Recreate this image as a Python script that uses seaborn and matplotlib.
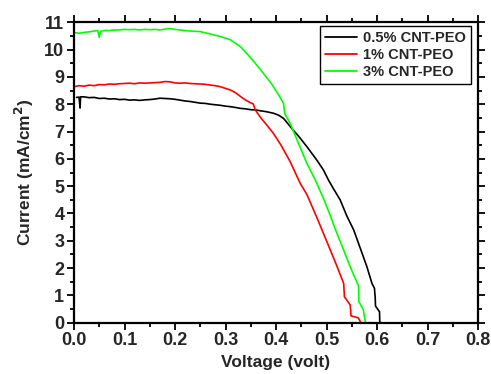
import numpy as np
import pandas as pd
import matplotlib
matplotlib.use("Agg")
import matplotlib.pyplot as plt
from matplotlib.ticker import MultipleLocator
import seaborn as sns

# ---- data ----
v_black = [0.005, 0.010, 0.012, 0.013, 0.02, 0.03, 0.04, 0.05, 0.06, 0.07, 0.08, 0.09, 0.10,
           0.11, 0.12, 0.13, 0.14, 0.15, 0.16, 0.17, 0.18, 0.19, 0.20, 0.21, 0.22, 0.23, 0.24,
           0.25, 0.26, 0.27, 0.28, 0.29, 0.30, 0.31, 0.32, 0.329, 0.34, 0.35, 0.36, 0.369, 0.38,
           0.395, 0.405, 0.415, 0.431, 0.446, 0.461, 0.481, 0.494, 0.504, 0.514, 0.527, 0.54,
           0.554, 0.567, 0.58, 0.59, 0.595, 0.5965, 0.597, 0.605, 0.6055, 0.61]
i_black = [8.25, 8.26, 7.86, 8.27, 8.27, 8.24, 8.25, 8.21, 8.22, 8.19, 8.20, 8.17, 8.18,
           8.15, 8.16, 8.14, 8.16, 8.17, 8.19, 8.22, 8.21, 8.20, 8.18, 8.15, 8.12, 8.10, 8.07,
           8.04, 8.03, 8.00, 7.98, 7.96, 7.93, 7.91, 7.88, 7.85, 7.83, 7.80, 7.79, 7.76, 7.73,
           7.67, 7.60, 7.48, 7.12, 6.80, 6.45, 5.95, 5.59, 5.22, 4.90, 4.50, 3.92,
           3.39, 2.72, 2.05, 1.44, 1.26, 0.90, 0.61, 0.40, 0.0, 0.0]

v_red = [0.0, 0.01, 0.02, 0.03, 0.04, 0.05, 0.06, 0.07, 0.08, 0.09, 0.10, 0.11, 0.12, 0.13,
         0.14, 0.15, 0.16, 0.17, 0.18, 0.19, 0.20, 0.21, 0.22, 0.23, 0.24, 0.25, 0.26, 0.27,
         0.28, 0.29, 0.30, 0.31, 0.32, 0.33, 0.34, 0.35, 0.355, 0.359, 0.37, 0.38, 0.395,
         0.41, 0.428, 0.448, 0.461, 0.481, 0.50, 0.52, 0.534, 0.5355, 0.547, 0.5485, 0.563,
         0.568, 0.575]
i_red = [8.64, 8.68, 8.66, 8.70, 8.68, 8.72, 8.71, 8.74, 8.73, 8.75, 8.76, 8.77, 8.75, 8.78,
         8.77, 8.78, 8.79, 8.80, 8.83, 8.82, 8.78, 8.77, 8.78, 8.76, 8.75, 8.74, 8.73, 8.70,
         8.68, 8.64, 8.58, 8.52, 8.42, 8.28, 8.15, 8.05, 8.01, 7.79, 7.50, 7.28, 6.93,
         6.50, 5.90, 5.10, 4.70, 3.85, 3.00, 2.10, 1.44, 0.95, 0.65, 0.25, 0.18,
         0.0, 0.0]

v_green = [0.0, 0.005, 0.01, 0.02, 0.03, 0.04, 0.047, 0.050, 0.052, 0.055, 0.06, 0.07, 0.08,
           0.09, 0.10, 0.11, 0.12, 0.13, 0.14, 0.15, 0.16, 0.17, 0.18, 0.19, 0.20, 0.21, 0.22,
           0.23, 0.24, 0.25, 0.27, 0.29, 0.31, 0.33, 0.35, 0.37, 0.39, 0.405, 0.415, 0.417,
           0.428, 0.445, 0.461, 0.478, 0.494, 0.507, 0.52, 0.534, 0.548, 0.5635, 0.564, 0.573,
           0.577, 0.59]
i_green = [10.60, 10.62, 10.60, 10.63, 10.65, 10.68, 10.70, 10.45, 10.66, 10.68, 10.70, 10.70, 10.72,
           10.72, 10.74, 10.73, 10.74, 10.72, 10.74, 10.73, 10.74, 10.72, 10.75, 10.77, 10.74, 10.72, 10.70,
           10.68, 10.67, 10.66, 10.57, 10.48, 10.36, 10.10, 9.70, 9.25, 8.78, 8.35, 8.03, 7.67,
           7.30, 6.55, 5.84, 5.22, 4.55, 3.95, 3.30, 2.66, 2.00, 1.35, 0.78, 0.47,
           0.0, 0.0]

labels = ["0.5% CNT-PEO", "1% CNT-PEO", "3% CNT-PEO"]
colors = ["#000000", "#ff0000", "#00ff00"]

df = pd.concat([
    pd.DataFrame({"Voltage": v_black, "Current": i_black, "Sample": labels[0]}),
    pd.DataFrame({"Voltage": v_red, "Current": i_red, "Sample": labels[1]}),
    pd.DataFrame({"Voltage": v_green, "Current": i_green, "Sample": labels[2]}),
], ignore_index=True)

sns.set_style("ticks")
plt.rcParams["font.family"] = ["Liberation Sans", "DejaVu Sans"]
plt.rcParams["font.weight"] = "bold"

fig = plt.figure(figsize=(4.91, 3.74), dpi=100)
ax = fig.add_axes([74 / 491, 1 - 322.7 / 374, (478 - 74) / 491, (322.7 - 22.3) / 374])

sns.lineplot(data=df, x="Voltage", y="Current", hue="Sample", hue_order=labels,
             palette=colors, sort=False, estimator=None, linewidth=1.2, ax=ax)

ax.set_xlim(0, 0.8)
ax.set_ylim(0, 11)
ax.xaxis.set_major_locator(MultipleLocator(0.1))
ax.xaxis.set_minor_locator(MultipleLocator(0.05))
ax.yaxis.set_major_locator(MultipleLocator(1))
ax.yaxis.set_minor_locator(MultipleLocator(0.5))
ax.set_xticklabels([f"{t:.1f}" for t in ax.get_xticks()])

for s in ax.spines.values():
    s.set_visible(True)
    s.set_linewidth(1.6)
    s.set_color("black")

ax.tick_params(which="both", direction="out", top=True, right=True, color="black", width=1.3)
ax.tick_params(which="major", length=5, labelsize=13, pad=2)
ax.tick_params(which="minor", length=3)
for lab in ax.get_xticklabels() + ax.get_yticklabels():
    lab.set_fontweight("bold")

ax.set_xlabel("Voltage (volt)", fontsize=12.5, fontweight="bold", labelpad=4)
ax.set_ylabel("Current (mA/cm$^\\mathbf{2}$)", fontsize=12.5, fontweight="bold", labelpad=6)

leg = ax.legend(loc="upper right", bbox_to_anchor=(0.982, 0.988), frameon=True, fancybox=False,
                edgecolor="black", framealpha=1, prop={"weight": "bold", "size": 10.5},
                handlelength=2.2, handletextpad=0.4, labelspacing=0.2, borderpad=0.35,
                borderaxespad=0)
leg.get_frame().set_linewidth(1.0)
for line in leg.get_lines():
    line.set_linewidth(1.3)

fig.savefig("out.png", dpi=100)
